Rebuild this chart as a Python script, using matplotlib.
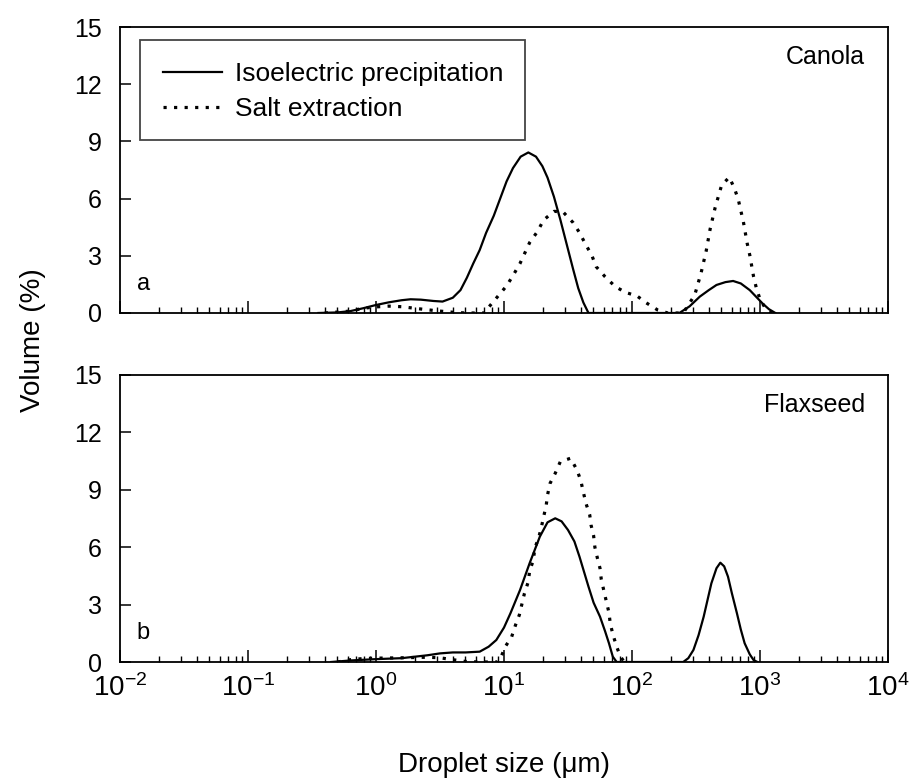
import matplotlib
matplotlib.use("Agg")
import matplotlib.pyplot as plt
from matplotlib.patches import Rectangle
from matplotlib.ticker import LogLocator, NullFormatter

plt.rcParams['font.family'] = ['Liberation Sans', 'DejaVu Sans']
plt.rcParams['mathtext.fontset'] = 'custom'
plt.rcParams['mathtext.rm'] = 'Liberation Sans'
plt.rcParams['mathtext.it'] = 'Liberation Sans:italic'

# ---------------- data ----------------
canola_iso_size = [0.355, 0.501, 0.631, 0.794, 1.0, 1.259, 1.585, 1.862, 2.239, 2.818, 3.311,
                   3.981, 4.571, 5.129, 5.754, 6.457, 7.244, 8.318, 9.333, 10.47, 11.75, 13.49,
                   15.49, 17.78, 19.95, 21.88, 24.55, 27.54, 30.9, 34.67, 38.02, 41.69, 45.71,
                   234.4, 281.8, 338.8, 398.1, 457.1, 537.0, 616.6, 707.9, 831.8, 933.3, 1047,
                   1175, 1318]
canola_iso_vol = [0, 0.03, 0.1, 0.25, 0.42, 0.56, 0.67, 0.72, 0.7, 0.63, 0.6,
                  0.8, 1.2, 1.85, 2.6, 3.3, 4.2, 5.1, 6.0, 6.9, 7.6, 8.2,
                  8.42, 8.2, 7.7, 7.1, 6.1, 4.9, 3.6, 2.3, 1.3, 0.55, 0,
                  0, 0.35, 0.86, 1.2, 1.47, 1.62, 1.68, 1.55, 1.2, 0.85, 0.5,
                  0.2, 0]

canola_salt_size = [0.398, 0.631, 0.794, 1.0, 1.259, 1.585, 1.995, 2.512, 3.162, 3.981, 5.012,
                    7.079, 7.586, 8.913, 10.47, 11.75, 13.34, 15.85, 18.2, 20.42, 24.55, 28.84,
                    34.67, 38.9, 43.65, 48.42, 52.48, 61.66, 74.13, 89.13, 109.6, 128.8, 158.5,
                    190.5, 251.2, 309.0, 346.7, 380.2, 407.4, 446.7, 501.2, 575.4, 631.0, 676.1,
                    707.9, 741.3, 794.3, 831.8, 891.3, 933.3, 1000, 1122, 1259]
canola_salt_vol = [0, 0.1, 0.25, 0.32, 0.36, 0.33, 0.25, 0.17, 0.1, 0.04, 0,
                   0, 0.3, 0.86, 1.42, 1.96, 2.6, 3.69, 4.26, 4.88, 5.33, 5.31,
                   4.74, 4.21, 3.57, 3.04, 2.43, 1.9, 1.38, 1.08, 0.89, 0.54, 0.16,
                   0, 0, 0.94, 2.11, 3.27, 4.39, 5.54, 6.7, 7.12, 6.54, 5.96,
                   5.37, 4.79, 3.65, 3.04, 1.9, 1.35, 0.72, 0.16, 0]

flax_iso_size = [0.447, 0.631, 1.0, 1.585, 2.512, 3.162, 3.981, 5.012, 6.457, 7.586, 8.71,
                 10.0, 11.22, 13.34, 15.85, 19.05, 21.88, 25.12, 28.18, 31.62, 35.48, 38.9,
                 45.71, 50.12, 56.23, 61.66, 66.07, 70.79, 75.86,
                 251.2, 275.4, 302.0, 331.1, 363.1, 416.9, 457.1, 489.8, 524.8, 562.3, 602.6,
                 660.7, 707.9, 758.6, 831.8, 891.3, 955.0]
flax_iso_vol = [0, 0.08, 0.15, 0.2, 0.35, 0.45, 0.5, 0.5, 0.54, 0.8, 1.15,
                1.8, 2.54, 3.76, 5.16, 6.55, 7.3, 7.51, 7.35, 6.9, 6.3, 5.5,
                3.94, 3.1, 2.37, 1.6, 0.98, 0.28, 0,
                0, 0.2, 0.63, 1.4, 2.37, 4.11, 4.9, 5.19, 5.0, 4.46, 3.6,
                2.54, 1.7, 0.98, 0.4, 0.1, 0]

flax_salt_size = [0.501, 0.631, 0.794, 1.0, 1.585, 2.512, 3.162, 3.981, 5.012, 6.31, 8.913,
                  9.333, 10.23, 11.48, 12.3, 13.18, 13.8, 14.45, 15.49, 15.85, 16.98, 17.38,
                  18.62, 19.5, 20.42, 21.38, 21.88, 22.91, 25.12, 27.54, 33.11, 37.15, 39.81,
                  41.69, 43.65, 46.77, 47.86, 50.12, 51.29, 53.7, 56.23, 57.54, 60.26, 63.1,
                  66.07, 67.61, 70.79, 75.86, 81.28, 87.1]
flax_salt_vol = [0, 0.12, 0.18, 0.2, 0.22, 0.25, 0.22, 0.12, 0.03, 0, 0,
                 0.15, 0.8, 1.32, 1.93, 2.46, 3.03, 3.59, 4.2, 4.76, 5.33, 5.94,
                 6.47, 6.99, 7.6, 8.2, 8.73, 9.34, 9.86, 10.47, 10.65, 10.04, 9.48,
                 8.87, 8.3, 7.68, 7.16, 6.6, 6.0, 5.42, 4.9, 4.32, 3.73, 3.15,
                 2.58, 2.02, 1.46, 0.8, 0.28, 0]

series_labels = ["Isoelectric precipitation", "Salt extraction"]
panel_names = ["Canola", "Flaxseed"]
panel_letters = ["a", "b"]
y_ticks = [0, 3, 6, 9, 12, 15]
x_limits = [1e-2, 1e4]

# ---------------- figure ----------------
fig = plt.figure(figsize=(9.14, 7.8), dpi=100)
ax_top = fig.add_axes([120/914, 1-313/780, 768/914, 286/780])
ax_bot = fig.add_axes([120/914, 1-662/780, 768/914, 287/780])

dot_style = (0, (1, 2.3))
panels = [
    (ax_top, canola_iso_size, canola_iso_vol, canola_salt_size, canola_salt_vol),
    (ax_bot, flax_iso_size, flax_iso_vol, flax_salt_size, flax_salt_vol),
]

for i, (ax, xs1, ys1, xs2, ys2) in enumerate(panels):
    l1, = ax.plot(xs1, ys1, color='black', lw=1.6, solid_joinstyle='round')
    l2, = ax.plot(xs2, ys2, color='black', lw=2.3, linestyle=dot_style)
    ax.set_xscale('log')
    ax.set_xlim(*x_limits)
    ax.set_ylim(0, 15)
    ax.set_yticks(y_ticks)
    ax.xaxis.set_major_locator(LogLocator(base=10, numticks=10))
    ax.xaxis.set_minor_locator(LogLocator(base=10, subs=range(2, 10), numticks=20))
    ax.xaxis.set_minor_formatter(NullFormatter())
    ax.tick_params(axis='x', which='major', direction='in', length=9, width=1.1, labelsize=20, pad=9)
    ax.tick_params(axis='x', which='minor', direction='in', length=4.5, width=1.0)
    ax.tick_params(axis='y', which='major', direction='in', length=8, width=1.1, labelsize=18, pad=13)
    for sp in ax.spines.values():
        sp.set_linewidth(1.3)
    ax.text(0.97, 0.895, panel_names[i], transform=ax.transAxes, ha='right', va='center', fontsize=18)
    ax.text(0.022, 0.10, panel_letters[i], transform=ax.transAxes, ha='left', va='center', fontsize=17)
    if i == 0:
        ax.tick_params(axis='x', which='major', labelbottom=False)
        rect = Rectangle((20/768, 173/286), 385/768, 100/286, transform=ax.transAxes,
                         fill=False, edgecolor='#444444', lw=1.3, zorder=5)
        ax.add_patch(rect)
        ax.legend([l1, l2], series_labels, loc='upper left',
                  bbox_to_anchor=(43/768, (313-62)/286), frameon=False, fontsize=19,
                  handlelength=2.24, handletextpad=0.5, labelspacing=0.42, borderpad=0,
                  borderaxespad=0)

fig.text(33/914, 1-340/780, "Volume (%)", rotation=90, ha='center', va='center', fontsize=20)
fig.text(504/914, 1-765/780, "Droplet size (\u03bcm)", ha='center', va='center', fontsize=20)

fig.savefig("out.png", dpi=100)
